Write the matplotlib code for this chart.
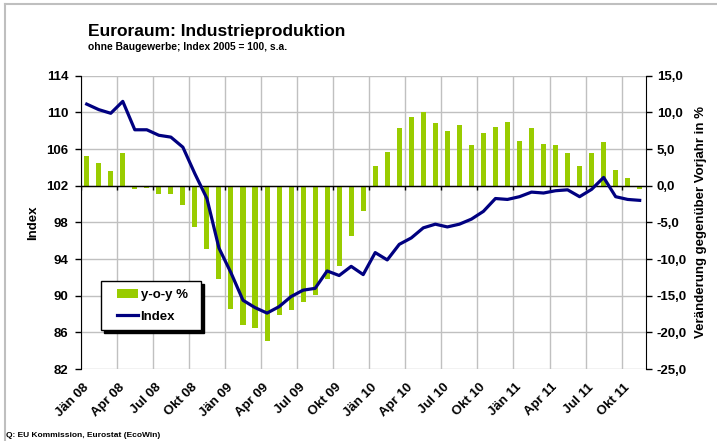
import numpy as np
import matplotlib
matplotlib.use("Agg")
import matplotlib.pyplot as plt
from matplotlib.lines import Line2D
from matplotlib.legend_handler import HandlerLine2D, HandlerPatch
from matplotlib.ticker import FuncFormatter, MultipleLocator

plt.rcParams['font.family'] = ['Liberation Sans', 'DejaVu Sans']
plt.rcParams['font.weight'] = 'bold'

# Monatsdaten Jän 08 .. Nov 11
months = ['Jän', 'Feb', 'Mär', 'Apr', 'Mai', 'Jun', 'Jul', 'Aug', 'Sep', 'Okt', 'Nov', 'Dez']
years = ['08', '09', '10', '11']
periods = [m + ' ' + y for y in years for m in months][:47]

yoy = [4.1, 3.1, 2.0, 4.5, -0.5, -0.35, -1.1, -1.2, -2.6, -5.7, -8.7, -12.7,
       -16.8, -19.0, -19.4, -21.2, -17.7, -16.9, -15.8, -14.9, -12.7, -10.9, -6.9, -3.5,
       2.7, 4.6, 7.8, 9.3, 10.0, 8.6, 7.5, 8.3, 5.6, 7.2, 8.0, 8.7,
       6.1, 7.8, 5.7, 5.5, 4.4, 2.7, 4.4, 6.0, 2.2, 1.0, -0.4]

index = [110.9, 110.3, 109.9, 111.2, 108.1, 108.1, 107.5, 107.3, 106.2, 103.3, 100.6, 95.2,
         92.5, 89.5, 88.7, 88.1, 88.8, 89.9, 90.6, 90.8, 92.7, 92.2, 93.2, 92.3,
         94.7, 93.9, 95.6, 96.3, 97.4, 97.8, 97.5, 97.8, 98.35, 99.2, 100.6, 100.5,
         100.8, 101.3, 101.2, 101.45, 101.55, 100.8, 101.6, 102.9, 100.8, 100.5, 100.4]

x = np.arange(len(periods))
W, H = 717, 441

fig = plt.figure(figsize=(W / 100, H / 100), dpi=100)
ax = fig.add_axes([80.7 / W, 1 - 369 / H, 565 / W, 293.3 / H])   # y-o-y (rechts)
ax2 = ax.twinx()                                                  # Index (links)

grid_col = '#C0C0C0'
bars = ax.bar(x, yoy, width=0.42, color='#99CC00', zorder=2)
ax.axhline(0, color='black', lw=1, zorder=3)
bounds = np.arange(-0.5, len(x) - 1, 3)
ax.plot(bounds, np.zeros(len(bounds)), ls='none', marker=3, ms=3, mew=1, color='black', zorder=3)

ax.set_xlim(-0.5, len(x) - 0.5)
ax.set_ylim(-25, 15)
ax.yaxis.set_major_locator(MultipleLocator(5))
ax.yaxis.set_major_formatter(FuncFormatter(lambda v, p: f'{v:.1f}'.replace('.', ',')))
ax.yaxis.tick_right()
ax.yaxis.set_label_position('right')
ax.set_ylabel('Veränderung gegenüber Vorjahr in %', fontsize=9.5, fontweight='bold', labelpad=6)

ax.set_xticks(x[::3])
ax.set_xticklabels(periods[::3], rotation=45, ha='right', va='center', rotation_mode='anchor')
ax.set_xticks(bounds, minor=True)
ax.tick_params(axis='x', which='both', length=0, labelsize=9.5, pad=12)
ax.tick_params(axis='y', direction='out', length=4, width=1, color='black', labelsize=9.5, pad=4)

ax.grid(True, axis='y', color=grid_col, lw=1, zorder=0)
ax.grid(True, axis='x', which='minor', color=grid_col, lw=1, zorder=0)
ax.grid(False, axis='x', which='major')
ax.set_axisbelow(True)

line, = ax2.plot(x, index, color='#000080', lw=2.3, zorder=4)
ax2.set_ylim(82, 114)
ax2.set_yticks(np.arange(82, 115, 4))
ax2.yaxis.tick_left()
ax2.yaxis.set_label_position('left')
ax2.set_ylabel('Index', fontsize=9.5, fontweight='bold', labelpad=5)
ax2.tick_params(axis='y', direction='out', length=4, width=1, color='black', labelsize=9.5, pad=5)

for a in (ax, ax2):
    for s in ('top', 'bottom'):
        a.spines[s].set_visible(False)
ax.spines['left'].set_visible(False)
ax2.spines['right'].set_visible(False)
ax.spines['right'].set_color('black')
ax2.spines['left'].set_color('black')

bar_handle = bars.patches[0]
hmap = {bar_handle: HandlerPatch(xpad=0.65), line: HandlerLine2D(xpad=0.65)}
leg = ax2.legend([bar_handle, line], ['y-o-y %', 'Index'], loc='lower left', mode='expand',
                 bbox_to_anchor=(0.036, 0.133, 0.1765, 0.16), handler_map=hmap,
                 fontsize=9.5, frameon=True, fancybox=False, edgecolor='black',
                 shadow={'color': 'black', 'alpha': 1}, handlelength=2.25,
                 handleheight=0.7, borderpad=0.55, labelspacing=0.73, handletextpad=0.2,
                 borderaxespad=0)
leg.get_frame().set_linewidth(1)
leg.get_frame().set_alpha(1)

fig.text(88 / W, 1 - 36 / H, 'Euroraum: Industrieproduktion', fontsize=12.5,
         fontweight='bold', va='baseline', ha='left')
fig.text(88 / W, 1 - 49.5 / H, 'ohne Baugewerbe; Index 2005 = 100, s.a.', fontsize=7.4,
         fontweight='bold', va='baseline', ha='left')
fig.text(6 / W, 1 - 437 / H, 'Q: EU Kommission, Eurostat (EcoWin)', fontsize=6.0,
         fontweight='bold', va='baseline', ha='left')

# grauer Rahmen oben und links
fig.add_artist(Line2D([5 / W, 5 / W], [0, 1 - 4 / H], color='#BFBFBF', lw=1.5))
fig.add_artist(Line2D([5 / W, 1], [1 - 4 / H, 1 - 4 / H], color='#BFBFBF', lw=1.5))

fig.savefig('out.png', dpi=100)
